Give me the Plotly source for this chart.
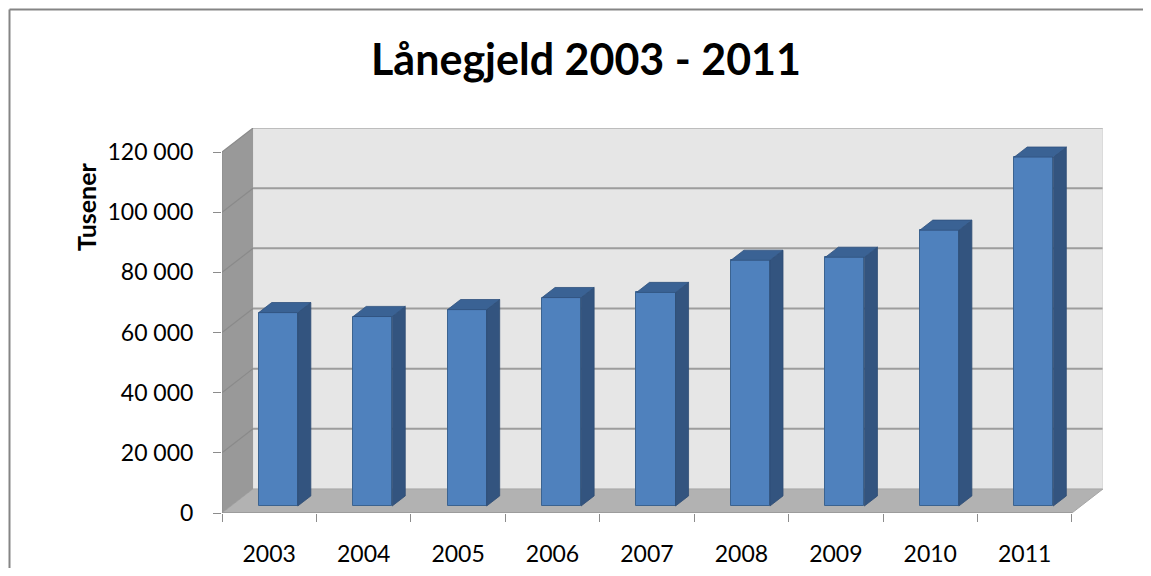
import plotly.graph_objects as go

years = ["2003", "2004", "2005", "2006", "2007", "2008", "2009", "2010", "2011"]
values = [64300, 63000, 65300, 69300, 71000, 81700, 82700, 91700, 116000]
y_ticks = [0, 20000, 40000, 60000, 80000, 100000, 120000]
y_tick_labels = ["0", "20 000", "40 000", "60 000", "80 000", "100 000", "120 000"]
title_text = "Lånegjeld 2003 - 2011"
y_title = "Tusener"

# ---- layout / 3D look constants ----
# page body has an 8px margin, so the figure is offset by 8px
OFF = 8
W, H = 1151 - 2 * OFF, 576 - 2 * OFF
L = 222 - OFF
T = 128 - OFF
R = W - (1103 - OFF)
B = H - (513 - OFF)
DX, DY = 0.329, 8000          # full depth offset (category units, value units)
F0, F1 = 0.29, 0.71           # bar depth position (fraction of depth)
BW = 0.414                    # bar width in category units
YMAX = 120000
n = len(years)
xs = list(range(n))

FRONT = "#4f81bd"
SIDE = "#33547f"
TOP = "#3a6294"
EDGE = "#3b6390"

fig = go.Figure()

PW, PH = W - L - R, H - T - B


def px_x(p):
    return (p - OFF - L) / PW


def px_y(p):
    return (H - B - (p - OFF)) / PH


shapes = []
x0, x1 = -0.5, n - 0.5
# back wall
shapes.append(dict(type="path", layer="below", xref="x", yref="y",
                   path=f"M{x0+DX},{DY} L{x1+DX},{DY} L{x1+DX},{YMAX+DY} L{x0+DX},{YMAX+DY} Z",
                   fillcolor="#e6e6e6", line=dict(width=0)))
# floor
shapes.append(dict(type="path", layer="below", xref="x", yref="y",
                   path=f"M{x0},0 L{x1},0 L{x1+DX},{DY} L{x0+DX},{DY} Z",
                   fillcolor="#b2b2b2", line=dict(color="#a6a6a6", width=1)))
# side wall
shapes.append(dict(type="path", layer="below", xref="x", yref="y",
                   path=f"M{x0},0 L{x0+DX},{DY} L{x0+DX},{YMAX+DY} L{x0},{YMAX} Z",
                   fillcolor="#999999", line=dict(width=0)))
# gridlines
for v in y_ticks[1:]:
    shapes.append(dict(type="line", layer="below", xref="x", yref="y",
                       x0=x0+DX, x1=x1+DX, y0=v+DY, y1=v+DY,
                       line=dict(color="#9d9d9d", width=2)))
    shapes.append(dict(type="line", layer="below", xref="x", yref="y",
                       x0=x0, x1=x0+DX, y0=v, y1=v+DY,
                       line=dict(color="#8a8a8a", width=1.2)))
shapes.append(dict(type="line", layer="below", xref="x", yref="y",
                   x0=x0+DX, x1=x1+DX, y0=YMAX+DY, y1=YMAX+DY,
                   line=dict(color="#c8c8c8", width=1.5)))
shapes.append(dict(type="line", layer="below", xref="x", yref="y",
                   x0=x1+DX, x1=x1+DX, y0=DY, y1=YMAX+DY,
                   line=dict(color="#d0d0d0", width=1)))
# front axis lines
shapes.append(dict(type="line", layer="below", xref="x", yref="y",
                   x0=x0, x1=x1, y0=0, y1=0, line=dict(color="#8c8c8c", width=1.2)))
shapes.append(dict(type="line", layer="below", xref="x", yref="y",
                   x0=x0, x1=x0, y0=0, y1=YMAX, line=dict(color="#8c8c8c", width=1)))
# chart frame (top & left)
shapes.append(dict(type="line", xref="paper", yref="paper",
                   x0=px_x(9.5), x1=px_x(1143), y0=px_y(9.5), y1=px_y(9.5),
                   line=dict(color="#858585", width=2)))
shapes.append(dict(type="line", xref="paper", yref="paper",
                   x0=px_x(9.5), x1=px_x(9.5), y0=px_y(9.5), y1=px_y(568),
                   line=dict(color="#858585", width=2)))

# front faces of bars
base = F0 * DY
fig.add_trace(go.Bar(
    x=[x + F0 * DX for x in xs], y=values, base=base, width=BW,
    marker=dict(color=FRONT, line=dict(color=EDGE, width=1)),
    hoverinfo="skip", showlegend=False))

# side and top faces
ddx, ddy = (F1 - F0) * DX, (F1 - F0) * DY
sx, sy, tx, ty = [], [], [], []
for x, v in zip(xs, values):
    xl = x + F0 * DX - BW / 2
    xr = x + F0 * DX + BW / 2
    top = base + v
    sx += [xr, xr + ddx, xr + ddx, xr, xr, None]
    sy += [base, base + ddy, top + ddy, top, base, None]
    tx += [xl, xr, xr + ddx, xl + ddx, xl, None]
    ty += [top, top, top + ddy, top + ddy, top, None]
fig.add_trace(go.Scatter(x=sx, y=sy, mode="lines", fill="toself", fillcolor=SIDE,
                         line=dict(color="#2e4c74", width=0.8), hoverinfo="skip", showlegend=False))
fig.add_trace(go.Scatter(x=tx, y=ty, mode="lines", fill="toself", fillcolor=TOP,
                         line=dict(color="#30527e", width=0.8), hoverinfo="skip", showlegend=False))

# invisible trace for tick axis
fig.add_trace(go.Scatter(x=[x0, x1], y=[0, 0], xaxis="x2", mode="markers",
                         marker=dict(opacity=0), hoverinfo="skip", showlegend=False))

FONT = "Lato, 'Open Sans', sans-serif"
fig.update_layout(
    width=W, height=H,
    margin=dict(l=L, r=R, t=T, b=B, pad=0, autoexpand=False),
    paper_bgcolor="white", plot_bgcolor="white",
    shapes=shapes,
    title=dict(text=f"<b>{title_text}</b>", xref="container", yref="container",
               x=(586 - OFF) / W, y=1 - (60 - OFF) / H, xanchor="center", yanchor="middle",
               font=dict(family=FONT, size=43, color="black"), automargin=False),
    xaxis=dict(range=[x0, x1 + DX], tickvals=xs, ticktext=years, ticks="outside",
               ticklen=20, tickcolor="rgba(0,0,0,0)", showgrid=False, zeroline=False,
               showline=False, tickfont=dict(family=FONT, size=23, color="black"),
               fixedrange=True, automargin=False),
    xaxis2=dict(range=[x0, x1 + DX], overlaying="x", side="bottom",
                tickvals=[i - 0.5 for i in range(n + 1)], ticks="outside", ticklen=8,
                tickcolor="#8c8c8c", tickwidth=1.2, showticklabels=False,
                showgrid=False, zeroline=False, showline=False, automargin=False),
    yaxis=dict(range=[0, YMAX + DY], tickvals=y_ticks, ticktext=y_tick_labels,
               ticks="outside", ticklen=8, tickcolor="#8c8c8c", tickwidth=1.2,
               ticklabelstandoff=15, showgrid=False, zeroline=False, showline=False,
               tickfont=dict(family=FONT, size=23, color="black"), automargin=False),
    bargap=0,
    annotations=[dict(text=f"<b>{y_title}</b>", textangle=-90, xref="paper", yref="paper",
                      x=px_x(86), y=px_y(207),
                      xanchor="center", yanchor="middle", showarrow=False,
                      font=dict(family=FONT, size=25, color="black"))],
)

fig.write_html("out.html", config={"displayModeBar": False})
